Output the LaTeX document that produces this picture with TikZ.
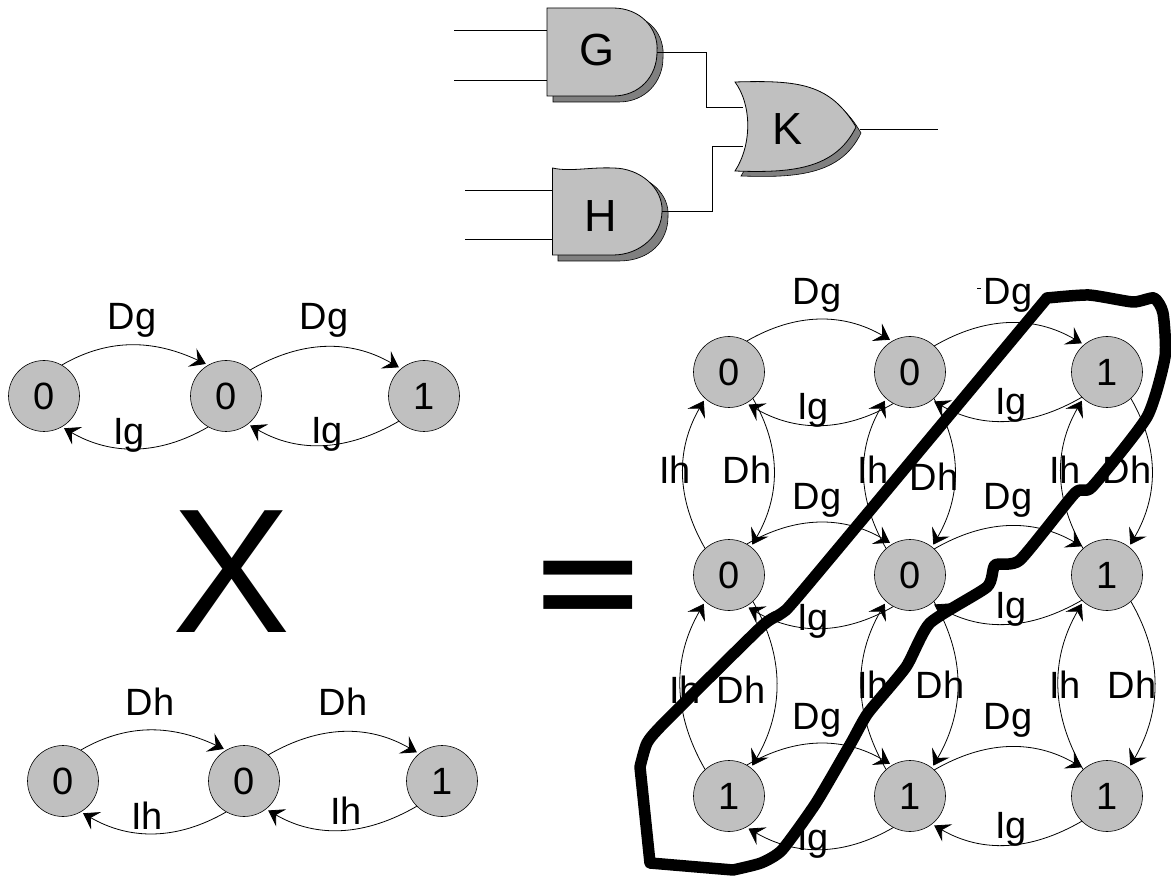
\documentclass[tikz,border=0pt]{standalone}
\usepackage{fontspec}
\usepackage{graphicx}
\setmainfont{Liberation Sans}
\usetikzlibrary{arrows.meta}
\definecolor{gatefill}{HTML}{C0C0C0}
\definecolor{gateshade}{HTML}{808080}
\tikzset{
  st/.style={circle,draw=black,line width=0.6pt,fill=gatefill,minimum size=71pt,inner sep=0pt,font=\fontsize{38}{40}\selectfont},
  lab/.style={inner sep=0pt,text height=26pt,text depth=0pt,font=\fontsize{38}{40}\selectfont},
  gatelab/.style={inner sep=0pt,font=\fontsize{45}{48}\selectfont},
  arc/.style={line width=0.8pt,shorten >=2.5pt,-{Stealth[length=15pt,width=20pt,inset=6pt]}},
  wire/.style={line width=0.8pt},
  gate/.style={draw=black,line width=0.8pt,fill=gatefill},
  shade/.style={draw=black,line width=0.6pt,fill=gateshade},
  big/.style={inner sep=0pt,font=\fontsize{177}{180}\selectfont},
  loopline/.style={line width=11.5pt,line join=round,line cap=round}
}
\begin{document}
\begin{tikzpicture}[x=1pt,y=-1pt]
\useasboundingbox (0,0) rectangle (1171,877);
% gates
\path[shade] (553,14) -- (619,14) .. controls (650,14) and (665,35) .. (663,58) .. controls (663,82) and (645,102) .. (619,102) -- (553,102) -- cycle;
\path[gate] (547,8) -- (613,8) .. controls (640,8) and (659,28) .. (657,52) .. controls (657,76) and (640,96) .. (613,96) -- (547,96) -- cycle;
\path[shade] (558,174) -- (619,174) .. controls (650,174) and (670,195) .. (668,217) .. controls (668,241) and (650,261) .. (619,261) -- (558,261) -- cycle;
\path[gate] (552.5,168) .. controls (570,172) and (590,167) .. (613,168) .. controls (640,168) and (663,188) .. (662,211) .. controls (662,235) and (640,255) .. (613,255) -- (552.5,255) -- cycle;
\path[shade] (741,88) .. controls (806,86) and (836,90) .. (861,133) .. controls (841,175) and (796,178) .. (741,176) .. controls (758,150) and (758,110) .. (741,88) -- cycle;
\path[gate] (735,82) .. controls (800,80) and (830,84) .. (856,127) .. controls (835,170) and (790,173) .. (735,171) .. controls (752,145) and (752,105) .. (735,82) -- cycle;
\node[gatelab] (G) at (597,50) {G};
\node[gatelab] (H) at (601,216) {H};
\node[gatelab] (K) at (788,129) {K};
\coordinate (ga) at (454,30); \coordinate (gaE) at (547,30);
\coordinate (gb) at (454,80); \coordinate (gbE) at (547,80);
\coordinate (ha) at (465,190); \coordinate (haE) at (552,190);
\coordinate (hb) at (465,239); \coordinate (hbE) at (552,239);
\coordinate (gOut) at (657,52); \coordinate (gMid) at (706.5,52); \coordinate (kA) at (743,107);
\coordinate (hOut) at (662,211); \coordinate (hMid) at (712,211); \coordinate (kB) at (743,146);
\coordinate (kOut) at (860,129); \coordinate (out) at (938,129);
\draw[wire] (ga) -- (gaE);
\draw[wire] (gb) -- (gbE);
\draw[wire] (ha) -- (haE);
\draw[wire] (hb) -- (hbE);
\draw[wire] (gOut) -- (gMid) |- (kA);
\draw[wire] (hOut) -- (hMid) |- (kB);
\draw[wire] (kOut) -- (out);
% left chains
\node[st] (a0) at (44,396) {0};
\node[st] (a1) at (226,396) {0};
\node[st] (a2) at (424,396) {1};
\node[st] (b0) at (63,781) {0};
\node[st] (b1) at (244,781) {0};
\node[st] (b2) at (442,781) {1};
\foreach \p/\q in {a0/a1,b0/b1}{
  \draw[arc] (\p.60) to[out=30,in=155] (\q.120);
  \draw[arc] (\q.-120) to[out=-150,in=-30] (\p.-60);
}
\foreach \p/\q in {a1/a2,b1/b2}{
  \draw[arc] (\p.47) to[out=30,in=150] (\q.130);
  \draw[arc] (\q.-135) to[out=-150,in=-30] (\p.-52);
}
\node[lab] at (132,317) {Dg};
\node[lab] at (324,317) {Dg};
\node[lab] at (129,432) {Ig};
\node[lab] at (327,430) {Ig};
\node[lab] at (150,702) {Dh};
\node[lab] at (343,702) {Dh};
\node[lab] at (147,816) {Ih};
\node[lab] at (346,811) {Ih};
\node[big] (X) at (232,571.5) {X};
\node[big] (eq) at (588,594) {\scalebox{1}[0.72]{\bfseries =}};
% grid
\foreach \n/\x/\t in {1/729/0,2/910/0,3/1107/1}{ \node[st] (r\n) at (\x,372) {\t}; }
\foreach \n/\x/\t in {1/729/0,2/910/0,3/1107/1}{ \node[st] (s\n) at (\x,575) {\t}; }
\foreach \n/\x/\t in {1/729/1,2/910/1,3/1107/1}{ \node[st] (t\n) at (\x,796) {\t}; }
\foreach \R in {r,s,t}{
  \draw[arc] (\R1.60) to[out=30,in=150] (\R2.120);
  \draw[arc] (\R2.47) to[out=30,in=150] (\R3.130);
  \draw[arc] (\R2.-118) to[out=-150,in=-30] (\R1.-61);
  \draw[arc] (\R3.-135) to[out=-150,in=-30] (\R2.-52);
}
\foreach \U/\D in {r/s,s/t}{
  \foreach \c in {1,2,3}{
    \draw[arc] (\D\c.132) to[out=120,in=-120] (\U\c.-132);
    \draw[arc] (\U\c.-48) to[out=-60,in=60] (\D\c.52);
  }
}
\foreach \x/\y/\t in {817/292/Dg,1008/292/Dg,813/407/Ig,1011/402/Ig,
  675/470/Ih,747/470/Dh,873/470/Ih,934/477/Dh,1065/470/Ih,1127/470/Dh,
  817/496/Dg,1008/496/Dg,813/617/Ig,1011/605/Ig,
  685/690/Ih,741/690/Dh,873/685/Ih,940/685/Dh,1065/685/Ih,1132/685/Dh,
  817/716/Dg,1008/716/Dg,813/837/Ig,1011/825/Ig}{
  \node[lab] at (\x,\y) {\t};
}
\fill (977,288) rectangle (981,289);
% loop
\draw[loopline] plot[smooth,tension=0.35] coordinates {(1047,298) (1089,295) (1133,302) (1154,298) (1163,313) (1165,357) (1147,417) (1092,487) (1075,493) (1020,560) (995,565) (987,587) (930,623) (906,667) (868,713) (851,743) (816,803) (782,850) (761,863) (733,870)} -- (650,863) -- (640,767) plot[smooth,tension=0.35] coordinates {(640,767) (647,743) (664,723) (761,627) (782,613) (806,587) (1047,298)};
\end{tikzpicture}
\end{document}
